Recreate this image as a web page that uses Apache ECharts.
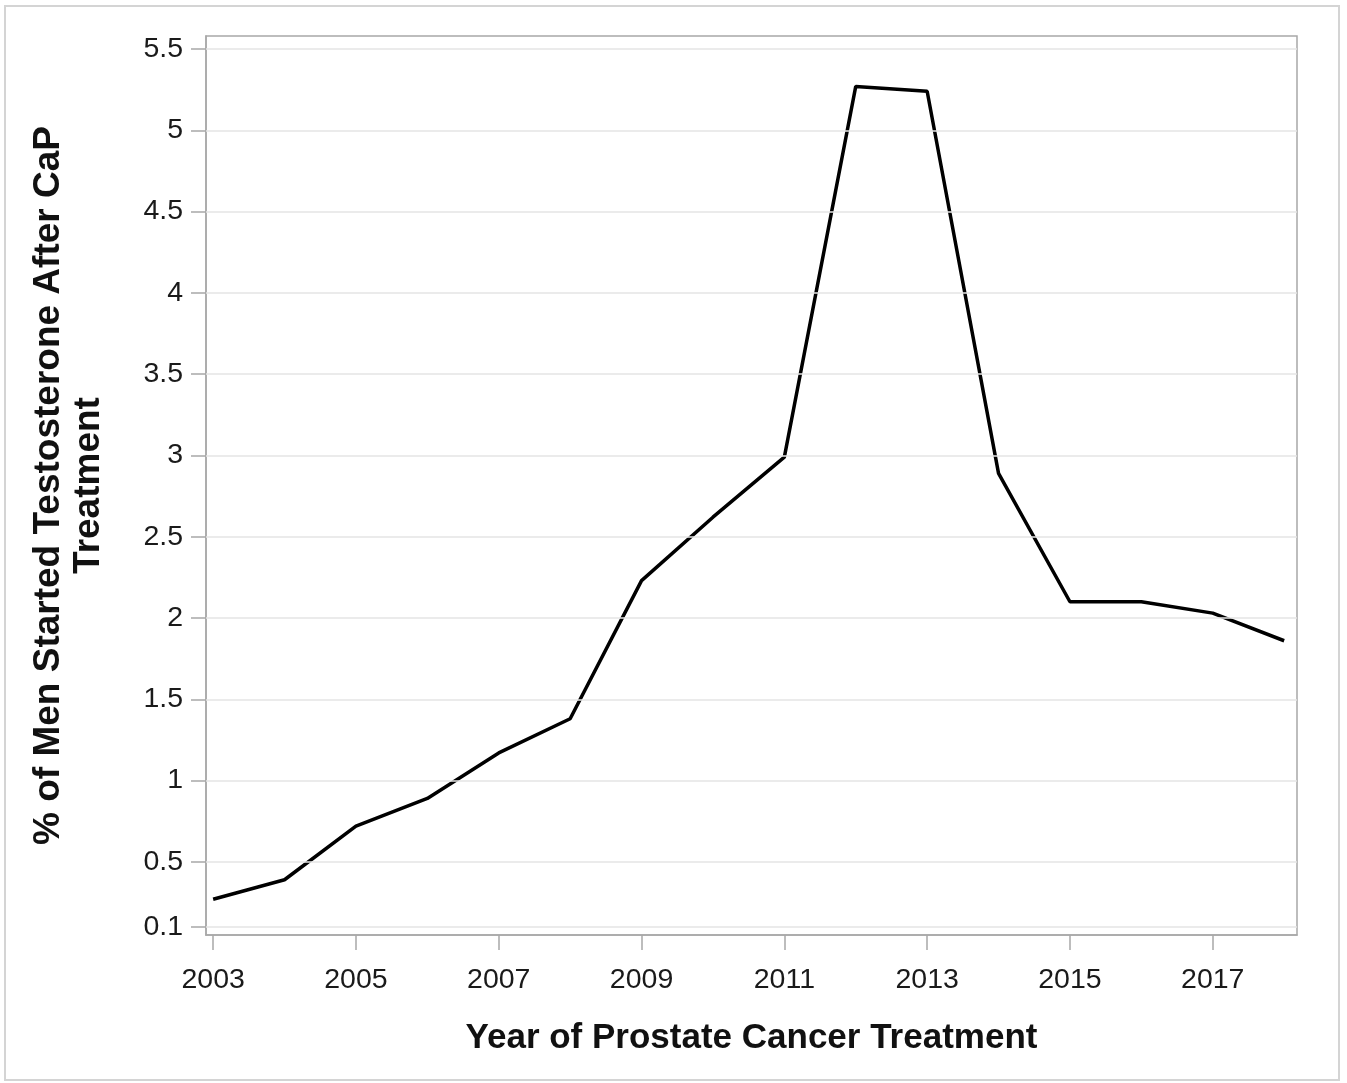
<!DOCTYPE html>
<html>
<head>
<meta charset="utf-8">
<script src="https://cdn.jsdelivr.net/npm/echarts@6/dist/echarts.min.js"></script>
<style>
html,body{margin:0;padding:0;background:#fff;}
#chart{width:1347px;height:1083px;}
</style>
</head>
<body>
<div id="chart"></div>
<script>
const years = [2003, 2004, 2005, 2006, 2007, 2008, 2009, 2010, 2011, 2012, 2013, 2014, 2015, 2016, 2017, 2018];
const pctStarted = [0.27, 0.39, 0.72, 0.89, 1.17, 1.38, 2.23, 2.62, 2.99, 5.27, 5.24, 2.89, 2.10, 2.10, 2.03, 1.86];
const yTicks = [0.1, 0.5, 1, 1.5, 2, 2.5, 3, 3.5, 4, 4.5, 5, 5.5];
const xTicks = [2003, 2005, 2007, 2009, 2011, 2013, 2015, 2017];
const xTitle = 'Year of Prostate Cancer Treatment';
const yTitle = '% of Men Started Testosterone After CaP\nTreatment';

const chart = echarts.init(document.getElementById('chart'), null, {renderer: 'canvas'});
const font = 'Liberation Sans, Arial, sans-serif';
const frameColor = '#a8a8a8';

chart.setOption({
  animation: false,
  backgroundColor: '#ffffff',
  graphic: [{
    type: 'rect',
    shape: {x: 5, y: 6, width: 1334, height: 1074},
    style: {fill: 'none', stroke: '#d4d4d4', lineWidth: 2},
    silent: true
  }],
  grid: {
    left: 206, top: 36, right: 50, bottom: 148,
    show: true, borderColor: frameColor, borderWidth: 1.5, backgroundColor: 'transparent'
  },
  xAxis: {
    type: 'value',
    min: 2002.9, max: 2018.18,
    name: xTitle,
    nameLocation: 'middle',
    nameGap: 86,
    nameTextStyle: {fontFamily: font, fontSize: 35, fontWeight: 'bold', color: '#111'},
    axisLine: {show: true, lineStyle: {color: frameColor, width: 1.5}},
    axisTick: {show: true, customValues: xTicks, length: 15, lineStyle: {color: frameColor, width: 1.5}},
    axisLabel: {customValues: xTicks, fontFamily: font, fontSize: 28.5, color: '#1a1a1a', margin: 31,
      formatter: v => String(v)},
    splitLine: {show: false}
  },
  yAxis: {
    type: 'value',
    min: 0.05, max: 5.58,
    name: yTitle,
    nameLocation: 'middle',
    nameGap: 97,
    nameRotate: 90,
    nameTextStyle: {fontFamily: font, fontSize: 37, fontWeight: 'bold', color: '#111', lineHeight: 40, align: 'center'},
    axisLine: {show: true, lineStyle: {color: frameColor, width: 1.5}},
    axisTick: {show: true, customValues: yTicks, length: 15, lineStyle: {color: frameColor, width: 1.5}},
    axisLabel: {customValues: yTicks, fontFamily: font, fontSize: 28.5, color: '#1a1a1a', margin: 23,
      formatter: v => String(v)},
    splitLine: {show: false}
  },
  series: [{
    type: 'line',
    z: 1,
    data: [],
    silent: true,
    markLine: {
      silent: true,
      symbol: ['none', 'none'],
      label: {show: false},
      lineStyle: {color: '#e4e4e4', width: 1.5, type: 'solid'},
      data: yTicks.map(v => ({yAxis: v}))
    }
  }, {
    type: 'line',
    z: 3,
    data: years.map((y, i) => [y, pctStarted[i]]),
    showSymbol: false,
    symbol: 'none',
    lineStyle: {color: '#000', width: 3.5},
    silent: true
  }]
});
</script>
</body>
</html>
